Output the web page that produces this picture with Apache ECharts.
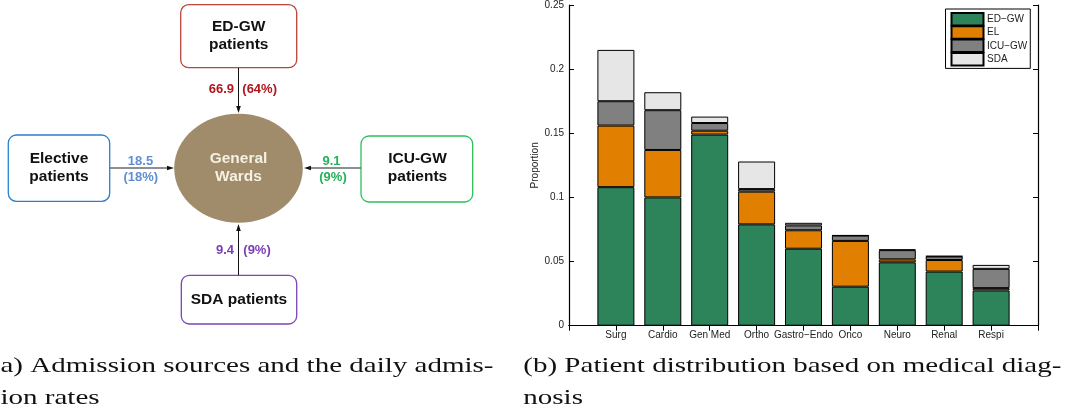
<!DOCTYPE html>
<html>
<head>
<meta charset="utf-8">
<script src="https://cdn.jsdelivr.net/npm/echarts@6/dist/echarts.min.js"></script>
<style>html,body{margin:0;padding:0;background:#fff}#c{width:1073px;height:412px}</style>
</head>
<body>
<div id="c"></div>
<script>
// ---- data (b): proportion of patients per diagnosis, split by admission source ----
var categories = ['Surg', 'Cardio', 'Gen Med', 'Ortho', 'Gastro\u2212Endo', 'Onco', 'Neuro', 'Renal', 'Respi'];
var seriesNames = ['ED\u2212GW', 'EL', 'ICU\u2212GW', 'SDA'];
var edgw  = [0.108, 0.100, 0.149, 0.079, 0.060, 0.0304, 0.0494, 0.0422, 0.0275];
var el    = [0.048, 0.037, 0.003, 0.0255, 0.0144, 0.0357, 0.0023, 0.009, 0.0018];
var icugw = [0.019, 0.031, 0.006, 0.002, 0.0038, 0.0041, 0.0072, 0.0028, 0.015];
var sda   = [0.040, 0.014, 0.005, 0.0215, 0.002, 0.0003, 0.0005, 0.0003, 0.0031];
var yTicks = [0, 0.05, 0.1, 0.15, 0.2, 0.25];

// ---- data (a): admission sources and daily admission rates ----
var sources = ['ED-GW\npatients', 'Elective\npatients', 'ICU-GW\npatients', 'SDA patients'];
var rates = ['66.9', '18.5', '9.1', '9.4'];
var shares = ['(64%)', '(18%)', '(9%)', '(9%)'];

var captionA = ['a) Admission sources and the daily admis-', 'ion rates'];
var captionB = ['(b) Patient distribution based on medical diag-', 'nosis'];

var colors = ['#2d835a', '#e07f00', '#808080', '#e6e6e6'];
var seriesData = [edgw, el, icugw, sda];

// the axis has an empty half-slot at each end (MATLAB-style xlim [0, n+1])
var axisCats = [''].concat(categories).concat(['']);

var chart = echarts.init(document.getElementById('c'), null, {renderer: 'canvas'});

function tw(text, font) {
  var ctx = document.createElement('canvas').getContext('2d');
  ctx.font = font;
  return ctx.measureText(text).width;
}

var capFont = '21px "Liberation Serif"';
var capScale = 493 / tw(captionA[0], capFont);

var boxFont = 'bold 15.5px "Liberation Sans", Arial, sans-serif';
var numFont = 'bold 13px "Liberation Sans", Arial, sans-serif';

function txt(x, y, text, fill, font, align) {
  return {type: 'text', x: x, y: y, silent: true,
    style: {text: text, fill: fill, font: font, textAlign: align || 'center', textVerticalAlign: 'middle', lineHeight: 18}};
}
function rect(x, y, w, h, stroke) {
  return {type: 'rect', shape: {x: x, y: y, width: w, height: h, r: 8}, silent: true,
    style: {fill: '#fff', stroke: stroke, lineWidth: 1.3}};
}
function line(x1, y1, x2, y2, col, lw) {
  return {type: 'line', shape: {x1: x1, y1: y1, x2: x2, y2: y2}, silent: true,
    style: {stroke: col, lineWidth: lw}};
}
function head(pts) {
  return {type: 'polygon', shape: {points: pts}, silent: true, style: {fill: '#111'}};
}

var cx = 238.5, cy = 168.3;
var graphics = [
  rect(180.7, 4.7, 116, 63, '#b6463e'),
  rect(8.3, 135, 101.4, 66.3, '#2a7fd0'),
  rect(361, 136, 111.7, 66, '#2cc05c'),
  rect(181.3, 275.3, 115.4, 48.7, '#7c45b8'),
  {type: 'ellipse', shape: {cx: cx, cy: cy, rx: 64.3, ry: 54.5}, silent: true, style: {fill: '#a08b6a'}},
  txt(238.7, 35.5, sources[0], '#111', boxFont),
  txt(59, 167.5, sources[1], '#111', boxFont),
  txt(417.5, 167.5, sources[2], '#111', boxFont),
  txt(239, 300, sources[3], '#111', boxFont),
  txt(cx, 167.5, 'General\nWards', '#f5f0e4', boxFont),
  // arrows
  line(cx, 68, cx, 108, '#111', 1), head([[cx - 2.3, 106], [cx + 2.3, 106], [cx, 113]]),
  line(110, 168, 168, 168, '#6a6a6a', 1.7), head([[167, 165.7], [167, 170.3], [174, 168]]),
  line(361, 168, 310, 168, '#6a6a6a', 1.7), head([[311, 165.7], [311, 170.3], [304, 168]]),
  line(cx, 275, cx, 230, '#111', 1), head([[cx - 2.3, 231], [cx + 2.3, 231], [cx, 224]]),
  // rates
  txt(234, 89, rates[0], '#b0161d', numFont, 'right'),
  txt(242.3, 89, shares[0], '#b0161d', numFont, 'left'),
  txt(140.5, 161, rates[1], '#5f8fd0', numFont),
  txt(140.8, 177.5, shares[1], '#5f8fd0', numFont),
  txt(331.5, 161, rates[2], '#22b259', numFont),
  txt(333, 177.5, shares[2], '#22b259', numFont),
  txt(234, 250, rates[3], '#7b3db3', numFont, 'right'),
  txt(243.3, 250, shares[3], '#7b3db3', numFont, 'left')
];
// captions
[[0.5, captionA], [523.3, captionB]].forEach(function (c) {
  c[1].forEach(function (t, i) {
    graphics.push({type: 'text', x: c[0], y: 366 + i * 32.7, scaleX: capScale, silent: true,
      style: {text: t, fill: '#111', font: capFont, textAlign: 'left', textVerticalAlign: 'middle'}});
  });
});

var series = seriesNames.map(function (name, k) {
  return {
    name: name, type: 'bar', stack: 'total', barWidth: 37,
    itemStyle: {color: colors[k], borderColor: '#000', borderWidth: 1},
    data: [null].concat(seriesData[k]).concat([null])
  };
});

var axisFont = {fontFamily: '"Liberation Sans", Arial, sans-serif', fontSize: 10, color: '#222'};
var tick = {show: true, inside: true, length: 5, interval: 0, lineStyle: {color: '#000'}};

chart.setOption({
  animation: false,
  backgroundColor: '#fff',
  grid: {left: 569, right: 35, top: 2.5, bottom: 86.3, containLabel: false},
  legend: {
    orient: 'vertical', left: 945.5, top: 9, padding: [3, 3, 2, 5], itemGap: -1.2,
    itemWidth: 32, itemHeight: 12.5, borderColor: '#000', borderWidth: 1, backgroundColor: '#fff',
    textStyle: {fontFamily: '"Liberation Sans", Arial, sans-serif', fontSize: 10, color: '#222', lineHeight: 12, padding: [0, 0, 0, -1.5]},
    data: seriesNames.map(function (n) { return {name: n, icon: 'rect'}; })
  },
  xAxis: [{
    type: 'category', data: axisCats, boundaryGap: false, position: 'bottom',
    axisLine: {lineStyle: {color: '#000', width: 1.2}},
    axisTick: tick,
    splitLine: {show: false},
    axisLabel: Object.assign({margin: 5, interval: 0}, axisFont)
  }, {
    type: 'category', data: axisCats, boundaryGap: false, position: 'top',
    axisLine: {show: true, lineStyle: {color: '#000', width: 1.2}},
    axisTick: tick,
    splitLine: {show: false}, axisLabel: {show: false}
  }],
  yAxis: [{
    type: 'value', min: yTicks[0], max: yTicks[yTicks.length - 1], interval: 0.05,
    name: 'Proportion', nameLocation: 'middle', nameGap: 24, nameRotate: 90,
    nameTextStyle: {fontFamily: '"Liberation Sans", Arial, sans-serif', fontSize: 10, color: '#222'},
    axisLine: {show: true, lineStyle: {color: '#000', width: 1.2}},
    axisTick: tick,
    splitLine: {show: false},
    axisLabel: Object.assign({margin: 5}, axisFont)
  }, {
    type: 'value', min: yTicks[0], max: yTicks[yTicks.length - 1], interval: 0.05, position: 'right',
    axisLine: {show: true, lineStyle: {color: '#000', width: 1.2}},
    axisTick: tick,
    splitLine: {show: false}, axisLabel: {show: false}
  }],
  series: series,
  graphic: graphics
});
</script>
</body>
</html>
